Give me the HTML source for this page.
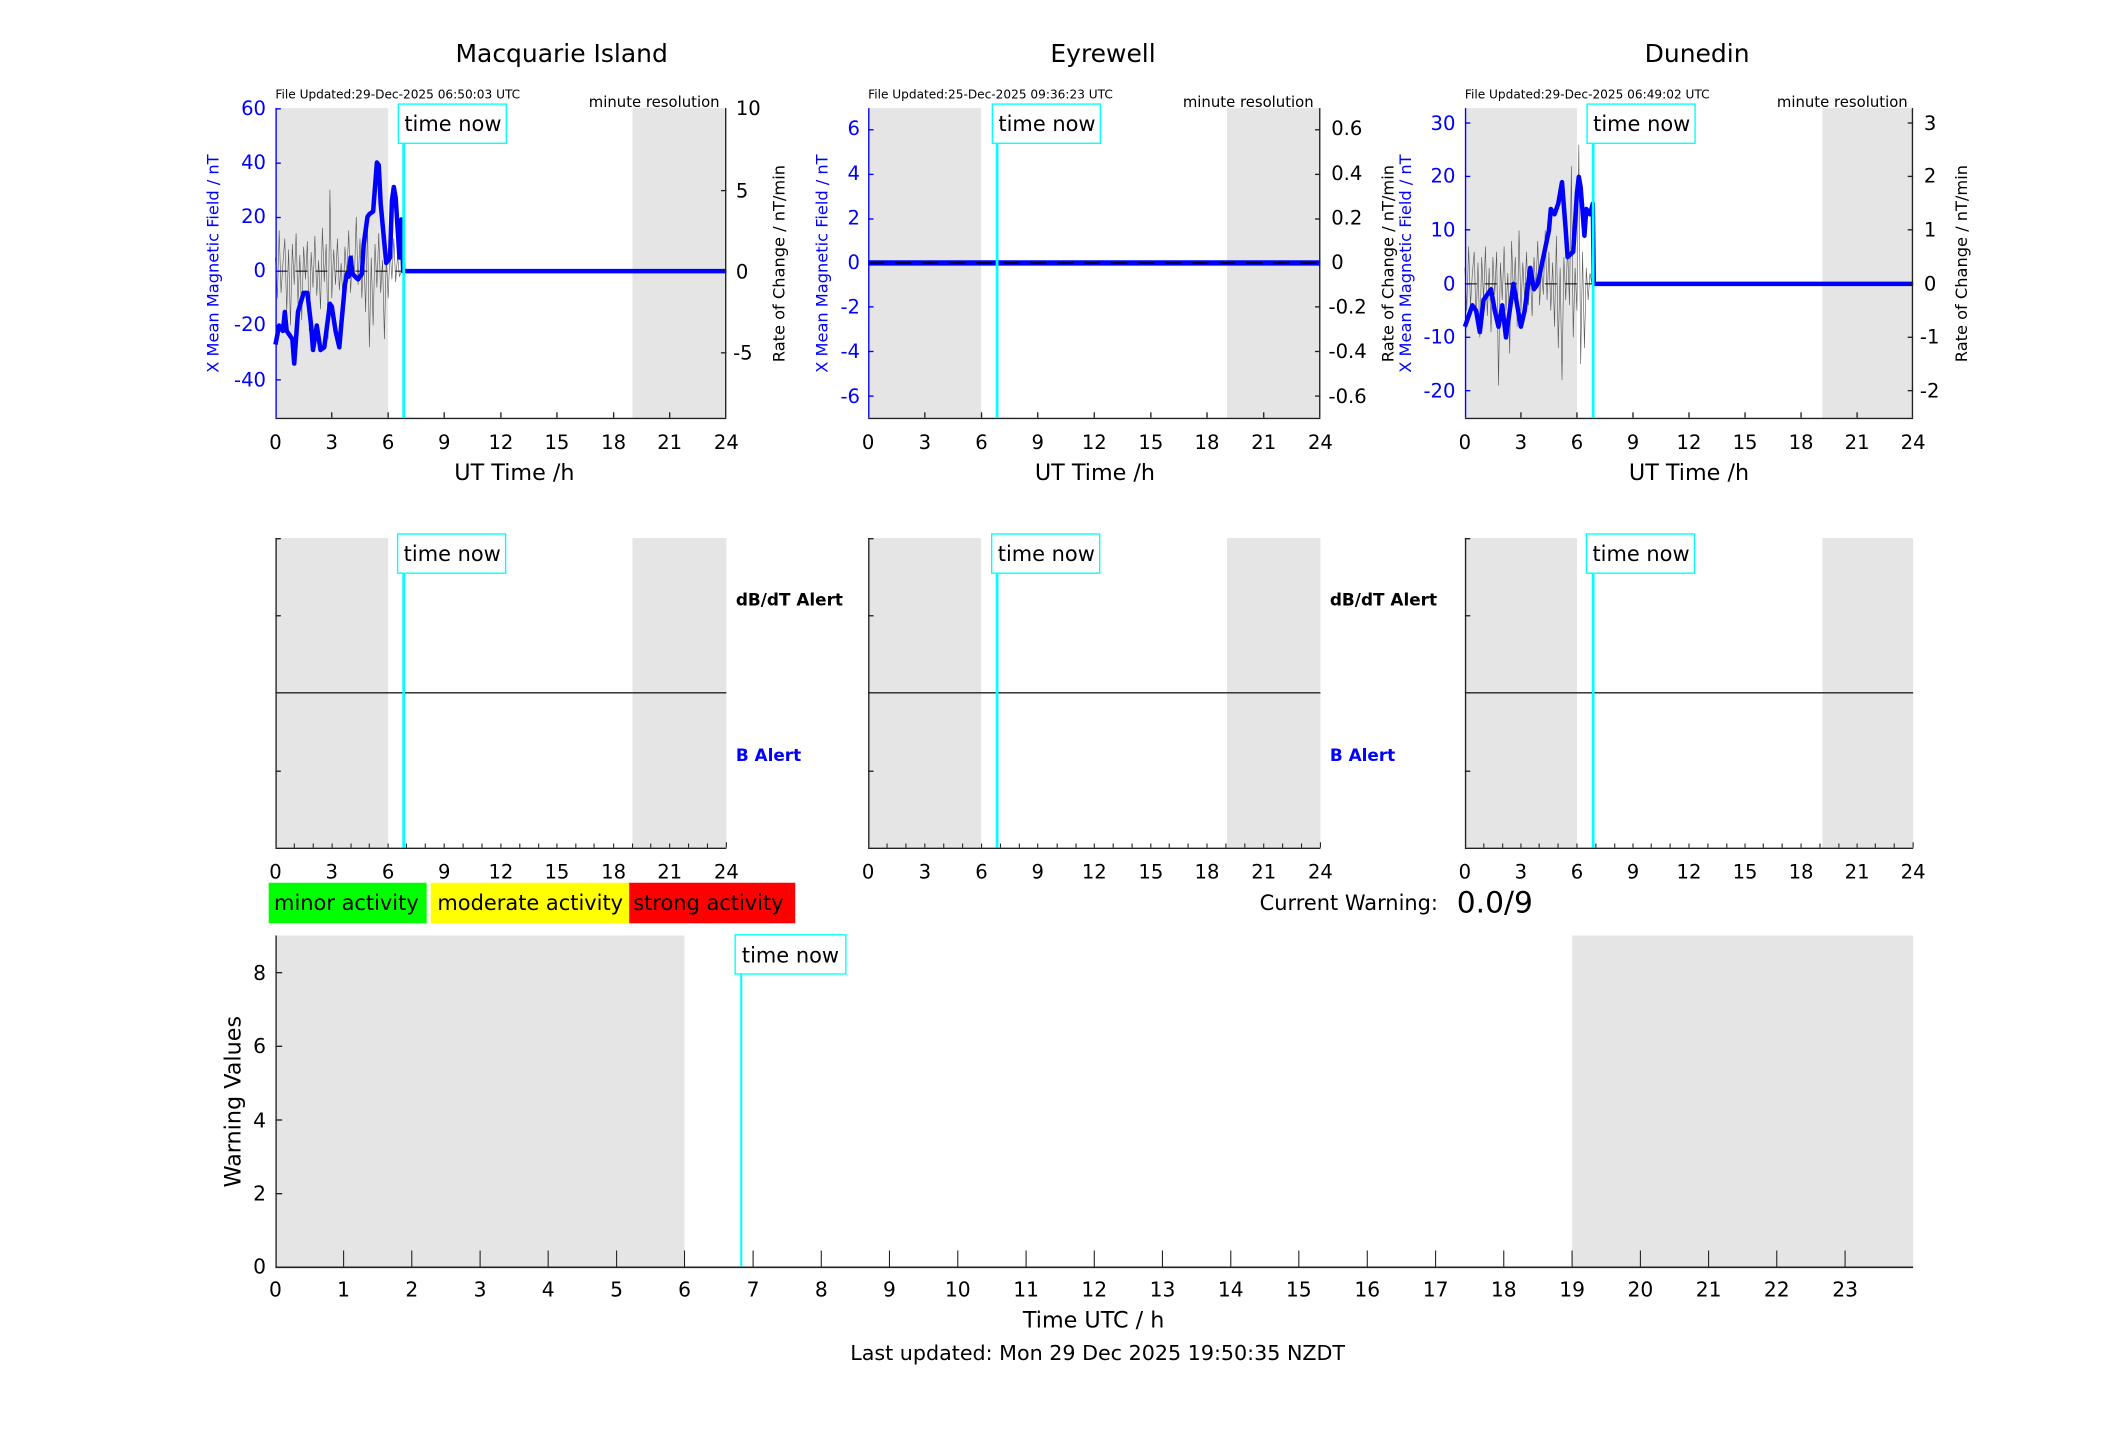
<!DOCTYPE html>
<html><head><meta charset="utf-8"><style>
html,body{margin:0;padding:0;background:#fff}
svg{display:block}
text{font-family:"DejaVu Sans","Liberation Sans",sans-serif}
</style></head><body>
<svg width="2117" height="1437" viewBox="0 0 1568 1063" preserveAspectRatio="none" xmlns="http://www.w3.org/2000/svg">
<rect width="1600" height="1100" fill="#fff"/>

<text x="416" y="46" font-size="18.5" text-anchor="middle">Macquarie Island</text>
<text x="817" y="46" font-size="18.5" text-anchor="middle">Eyrewell</text>
<text x="1257" y="46" font-size="18.5" text-anchor="middle">Dunedin</text>

<!-- ===== Panel 1 top ===== -->
<g>
<rect x="204" y="80" width="83.5" height="229" fill="#e5e5e5"/>
<rect x="468.5" y="80" width="69.5" height="229" fill="#e5e5e5"/>
<text x="204" y="73" font-size="9">File Updated:29-Dec-2025 06:50:03 UTC</text>
<text x="533" y="79" font-size="11" text-anchor="end">minute resolution</text>
<g transform="translate(204,200.6) scale(13.917,-2.01)">
<polyline fill="none" stroke="#555" stroke-width="0.6" vector-effect="non-scaling-stroke" points="0,5 0.1,-10 0.2,15 0.3,-8 0.4,3 0.5,12 0.6,-15 0.7,8 0.8,-20 0.9,10 1,-5 1.1,14 1.2,-12 1.3,6 1.4,-18 1.5,9 1.6,-3 1.7,11 1.8,-22 1.9,7 2,-6 2.1,13 2.2,-9 2.3,4 2.4,-14 2.5,16 2.6,-4 2.7,10 2.8,-25 2.9,30 3,-10 3.1,8 3.2,-5 3.3,12 3.4,-7 3.5,3 3.6,-12 3.7,9 3.8,-2 3.9,15 4,-8 4.1,6 4.2,-3 4.3,20 4.4,-5 4.5,12 4.6,-10 4.7,8 4.8,-15 4.9,18 5,-28 5.1,5 5.2,-20 5.3,10 5.4,-6 5.5,14 5.6,-8 5.7,4 5.8,-25 5.9,6 6,-10 6.1,8 6.2,-3 6.3,12 6.4,-4 6.5,6 6.6,-2 6.7,0"/>
<line x1="0" y1="0" x2="24" y2="0" stroke="#000" stroke-width="1" stroke-dasharray="12 8" vector-effect="non-scaling-stroke"/>
<polyline fill="none" stroke="#0000ff" stroke-width="4.5" stroke-linejoin="round" vector-effect="non-scaling-stroke" points="0,-27 0.2,-20 0.4,-22 0.5,-15 0.6,-22 0.9,-25 1.0,-34 1.2,-15 1.5,-8 1.7,-8 1.9,-20 2.0,-29 2.2,-20 2.4,-29 2.6,-28 2.9,-12 3.0,-13 3.2,-22 3.4,-28 3.5,-20 3.7,-5 3.8,-1 3.9,-2 4.0,5 4.1,-1 4.4,-3 4.6,-1 4.7,10 4.9,20 5.0,21 5.2,22 5.4,40 5.5,39 5.6,25 5.8,10 5.9,3 6.1,5 6.2,26 6.3,31 6.4,27 6.6,5 6.7,19 6.8,0 24,0"/>
</g>
<line x1="204.5" y1="80" x2="204.5" y2="309" stroke="#00f" stroke-width="1"/>
<line x1="537.5" y1="80" x2="537.5" y2="309" stroke="#222" stroke-width="1"/>
<line x1="204" y1="309.5" x2="538" y2="309.5" stroke="#222" stroke-width="1"/>
<g stroke="#00f"><line x1="204" y1="80.5" x2="208" y2="80.5"/><line x1="204" y1="120.7" x2="208" y2="120.7"/><line x1="204" y1="160.9" x2="208" y2="160.9"/><line x1="204" y1="200.6" x2="208" y2="200.6"/><line x1="204" y1="241" x2="208" y2="241"/><line x1="204" y1="281" x2="208" y2="281"/></g>
<g fill="#00f" font-size="14.5" text-anchor="end"><text x="197" y="85">60</text><text x="197" y="125">40</text><text x="197" y="165">20</text><text x="197" y="205">0</text><text x="197" y="245">-20</text><text x="197" y="286">-40</text></g>
<g stroke="#222"><line x1="534" y1="141" x2="538" y2="141"/><line x1="534" y1="261" x2="538" y2="261"/><line x1="534" y1="200.6" x2="538" y2="200.6"/></g>
<g font-size="14.5"><text x="545" y="85">10</text><text x="545" y="146">5</text><text x="545" y="206">0</text><text x="543" y="266">-5</text></g>
<text transform="translate(162,195) rotate(-90)" font-size="12" fill="#00f" text-anchor="middle">X Mean Magnetic Field / nT</text>
<text transform="translate(581,195) rotate(-90)" font-size="12" text-anchor="middle">Rate of Change / nT/min</text>
</g>

<!-- ===== Panel 2 top ===== -->
<g>
<rect x="643" y="80" width="83.7" height="229" fill="#e5e5e5"/>
<rect x="908.8" y="80" width="69.2" height="229" fill="#e5e5e5"/>
<text x="643" y="73" font-size="9">File Updated:25-Dec-2025 09:36:23 UTC</text>
<text x="973" y="79" font-size="11" text-anchor="end">minute resolution</text>
<line x1="643" y1="194.5" x2="978" y2="194.5" stroke="#0000ff" stroke-width="4"/>
<line x1="643" y1="194.5" x2="978" y2="194.5" stroke="#000" stroke-width="1" stroke-dasharray="12 8"/>
<line x1="643.5" y1="80" x2="643.5" y2="309" stroke="#00f"/>
<line x1="977.5" y1="80" x2="977.5" y2="309" stroke="#222"/>
<line x1="643" y1="309.5" x2="978" y2="309.5" stroke="#222"/>
<g fill="#00f" font-size="14.5" text-anchor="end"><text x="637" y="100">6</text><text x="637" y="133">4</text><text x="637" y="166">2</text><text x="637" y="199">0</text><text x="637" y="232">-2</text><text x="637" y="265">-4</text><text x="637" y="298">-6</text></g>
<g stroke="#00f"><line x1="643" y1="96" x2="647" y2="96"/><line x1="643" y1="129" x2="647" y2="129"/><line x1="643" y1="162" x2="647" y2="162"/><line x1="643" y1="227" x2="647" y2="227"/><line x1="643" y1="260" x2="647" y2="260"/><line x1="643" y1="293" x2="647" y2="293"/></g>
<g stroke="#222"><line x1="974" y1="96" x2="978" y2="96"/><line x1="974" y1="129" x2="978" y2="129"/><line x1="974" y1="162" x2="978" y2="162"/><line x1="974" y1="227" x2="978" y2="227"/><line x1="974" y1="260" x2="978" y2="260"/><line x1="974" y1="293" x2="978" y2="293"/></g>
<g font-size="14.5"><text x="986" y="100">0.6</text><text x="986" y="133">0.4</text><text x="986" y="166">0.2</text><text x="986" y="199">0</text><text x="984" y="232">-0.2</text><text x="984" y="265">-0.4</text><text x="984" y="298">-0.6</text></g>
<text transform="translate(613,195) rotate(-90)" font-size="12" fill="#00f" text-anchor="middle">X Mean Magnetic Field / nT</text>
<text transform="translate(1032,195) rotate(-90)" font-size="12" text-anchor="middle">Rate of Change / nT/min</text>
</g>

<!-- ===== Panel 3 top ===== -->
<g>
<rect x="1085" y="80" width="83" height="229" fill="#e5e5e5"/>
<rect x="1349.8" y="80" width="67.2" height="229" fill="#e5e5e5"/>
<text x="1085" y="73" font-size="9">File Updated:29-Dec-2025 06:49:02 UTC</text>
<text x="1413" y="79" font-size="11" text-anchor="end">minute resolution</text>
<g transform="translate(1085,210) scale(13.833,-3.96)">
<polyline fill="none" stroke="#555" stroke-width="0.6" vector-effect="non-scaling-stroke" points="0,3 0.1,-5 0.2,7 0.3,-4 0.4,2 0.5,6 0.6,-7 0.7,4 0.8,-10 0.9,5 1,-3 1.1,7 1.2,-6 1.3,3 1.4,-9 1.5,5 1.6,-2 1.7,6 1.8,-19 1.9,4 2,-3 2.1,7 2.2,-5 2.3,2 2.4,-13 2.5,8 2.6,-2 2.7,5 2.8,-8 2.9,10 3,-5 3.1,4 3.2,-3 3.3,6 3.4,-4 3.5,2 3.6,-6 3.7,5 3.8,-1 3.9,8 4,-4 4.1,3 4.2,-2 4.3,10 4.4,-3 4.5,6 4.6,-5 4.7,4 4.8,-8 4.9,9 5,-12 5.1,3 5.2,-18 5.3,5 5.4,-3 5.5,7 5.6,-4 5.7,22 5.8,-10 5.9,3 6,-5 6.1,26 6.2,-15 6.3,6 6.4,-12 6.5,3 6.6,-3 6.7,2 6.8,0"/>
<line x1="0" y1="0" x2="24" y2="0" stroke="#000" stroke-width="1" stroke-dasharray="12 8" vector-effect="non-scaling-stroke"/>
<polyline fill="none" stroke="#0000ff" stroke-width="4.5" stroke-linejoin="round" vector-effect="non-scaling-stroke" points="0,-8 0.2,-6 0.4,-4 0.6,-5 0.8,-9 1.0,-3 1.2,-2 1.4,-1 1.6,-5 1.8,-8 2.0,-4 2.2,-10 2.4,-5 2.6,0 2.8,-4 3.0,-8 3.2,-5 3.5,3 3.7,-1 3.9,0 4.2,5 4.5,10 4.6,14 4.8,13 5.0,15 5.2,19 5.4,10 5.5,5 5.8,6 6.0,17 6.1,20 6.2,18 6.4,9 6.5,14 6.7,13 6.85,15 6.9,0 24,0"/>
</g>
<line x1="1085.5" y1="80" x2="1085.5" y2="309" stroke="#00f"/>
<line x1="1416.5" y1="80" x2="1416.5" y2="309" stroke="#222"/>
<line x1="1085" y1="309.5" x2="1417" y2="309.5" stroke="#222"/>
<g stroke="#00f"><line x1="1085" y1="91" x2="1089" y2="91"/><line x1="1085" y1="130.5" x2="1089" y2="130.5"/><line x1="1085" y1="170" x2="1089" y2="170"/><line x1="1085" y1="210" x2="1089" y2="210"/><line x1="1085" y1="249.5" x2="1089" y2="249.5"/><line x1="1085" y1="289" x2="1089" y2="289"/></g>
<g fill="#00f" font-size="14.5" text-anchor="end"><text x="1078" y="96">30</text><text x="1078" y="135">20</text><text x="1078" y="175">10</text><text x="1078" y="215">0</text><text x="1078" y="254">-10</text><text x="1078" y="294">-20</text></g>
<g stroke="#222"><line x1="1413" y1="91" x2="1417" y2="91"/><line x1="1413" y1="130.5" x2="1417" y2="130.5"/><line x1="1413" y1="170" x2="1417" y2="170"/><line x1="1413" y1="210" x2="1417" y2="210"/><line x1="1413" y1="249.5" x2="1417" y2="249.5"/><line x1="1413" y1="289" x2="1417" y2="289"/></g>
<g font-size="14.5"><text x="1425" y="96">3</text><text x="1425" y="135">2</text><text x="1425" y="175">1</text><text x="1425" y="215">0</text><text x="1422" y="254">-1</text><text x="1422" y="294">-2</text></g>
<text transform="translate(1045,195) rotate(-90)" font-size="12" fill="#00f" text-anchor="middle">X Mean Magnetic Field / nT</text>
<text transform="translate(1457,195) rotate(-90)" font-size="12" text-anchor="middle">Rate of Change / nT/min</text>
</g>

<g font-size="14.5" text-anchor="middle">
<text x="204" y="332">0</text><text x="245.7" y="332">3</text><text x="287.5" y="332">6</text><text x="329" y="332">9</text><text x="371" y="332">12</text><text x="412.5" y="332">15</text><text x="454.5" y="332">18</text><text x="496" y="332">21</text><text x="538" y="332">24</text>
<text x="643" y="332">0</text><text x="685" y="332">3</text><text x="727" y="332">6</text><text x="768.6" y="332">9</text><text x="810.5" y="332">12</text><text x="852.4" y="332">15</text><text x="894" y="332">18</text><text x="936" y="332">21</text><text x="978" y="332">24</text>
<text x="1085" y="332">0</text><text x="1126.5" y="332">3</text><text x="1168" y="332">6</text><text x="1209.5" y="332">9</text><text x="1251" y="332">12</text><text x="1292.5" y="332">15</text><text x="1334" y="332">18</text><text x="1375.5" y="332">21</text><text x="1417" y="332">24</text>
<text x="381" y="355" font-size="16.5">UT Time /h</text><text x="811" y="355" font-size="16.5">UT Time /h</text><text x="1251" y="355" font-size="16.5">UT Time /h</text>
</g>
<g stroke="#222">
<line x1="245.7" y1="309" x2="245.7" y2="305"/><line x1="287.5" y1="309" x2="287.5" y2="305"/><line x1="329" y1="309" x2="329" y2="305"/><line x1="371" y1="309" x2="371" y2="305"/><line x1="412.5" y1="309" x2="412.5" y2="305"/><line x1="454.5" y1="309" x2="454.5" y2="305"/><line x1="496" y1="309" x2="496" y2="305"/>
<line x1="685" y1="309" x2="685" y2="305"/><line x1="727" y1="309" x2="727" y2="305"/><line x1="768.6" y1="309" x2="768.6" y2="305"/><line x1="810.5" y1="309" x2="810.5" y2="305"/><line x1="852.4" y1="309" x2="852.4" y2="305"/><line x1="894" y1="309" x2="894" y2="305"/><line x1="936" y1="309" x2="936" y2="305"/>
<line x1="1126.5" y1="309" x2="1126.5" y2="305"/><line x1="1168" y1="309" x2="1168" y2="305"/><line x1="1209.5" y1="309" x2="1209.5" y2="305"/><line x1="1251" y1="309" x2="1251" y2="305"/><line x1="1292.5" y1="309" x2="1292.5" y2="305"/><line x1="1334" y1="309" x2="1334" y2="305"/><line x1="1375.5" y1="309" x2="1375.5" y2="305"/>
</g>

<g stroke="#00ffff" stroke-width="2"><line x1="299" y1="105" x2="299" y2="309"/><line x1="738.5" y1="105" x2="738.5" y2="309"/><line x1="1180" y1="105" x2="1180" y2="309"/></g>
<g fill="#fff" stroke="#00ffff" stroke-width="1"><rect x="295" y="77" width="80" height="29"/><rect x="735" y="77" width="80" height="29"/><rect x="1175.5" y="77" width="80" height="29"/></g>
<g font-size="15.5"><text x="299.5" y="97">time now</text><text x="739.5" y="97">time now</text><text x="1180" y="97">time now</text></g>

<!-- ===== Middle panels ===== -->
<g>
<rect x="204" y="398" width="83.5" height="229" fill="#e5e5e5"/><rect x="468.5" y="398" width="69.5" height="229" fill="#e5e5e5"/>
<rect x="643" y="398" width="83.7" height="229" fill="#e5e5e5"/><rect x="908.8" y="398" width="69.2" height="229" fill="#e5e5e5"/>
<rect x="1085" y="398" width="83" height="229" fill="#e5e5e5"/><rect x="1349.8" y="398" width="67.2" height="229" fill="#e5e5e5"/>
<g stroke="#222" stroke-width="1">
<line x1="204.5" y1="398" x2="204.5" y2="627"/><line x1="204" y1="627.5" x2="538" y2="627.5"/><line x1="204" y1="512.5" x2="538" y2="512.5"/>
<line x1="643.5" y1="398" x2="643.5" y2="627"/><line x1="643" y1="627.5" x2="978" y2="627.5"/><line x1="643" y1="512.5" x2="978" y2="512.5"/>
<line x1="1085.5" y1="398" x2="1085.5" y2="627"/><line x1="1085" y1="627.5" x2="1417" y2="627.5"/><line x1="1085" y1="512.5" x2="1417" y2="512.5"/>
<line x1="204" y1="398.5" x2="208" y2="398.5"/><line x1="204" y1="455.5" x2="208" y2="455.5"/><line x1="204" y1="570.5" x2="208" y2="570.5"/>
<line x1="643" y1="398.5" x2="647" y2="398.5"/><line x1="643" y1="455.5" x2="647" y2="455.5"/><line x1="643" y1="570.5" x2="647" y2="570.5"/>
<line x1="1085" y1="398.5" x2="1089" y2="398.5"/><line x1="1085" y1="455.5" x2="1089" y2="455.5"/><line x1="1085" y1="570.5" x2="1089" y2="570.5"/>
</g>
<path stroke="#222" stroke-width="0.8" d="M218,627v-3M232,627v-3M246,627v-3M260,627v-3M273.5,627v-3M287.5,627v-3M301,627v-3M315,627v-3M329,627v-3M343,627v-3M357,627v-3M371,627v-3M385,627v-3M399,627v-3M412.5,627v-3M426.5,627v-3M440,627v-3M454.5,627v-3M468.5,627v-3M482,627v-3M496,627v-3M510,627v-3M524,627v-3M538,627v-4
M657,627v-3M671,627v-3M685,627v-3M699,627v-3M713,627v-3M727,627v-3M741,627v-3M755,627v-3M768.6,627v-3M783,627v-3M797,627v-3M810.5,627v-3M824.5,627v-3M838.5,627v-3M852.4,627v-3M866,627v-3M880,627v-3M894,627v-3M908,627v-3M922,627v-3M936,627v-3M950,627v-3M964,627v-3M978,627v-4
M1099,627v-3M1113,627v-3M1126.5,627v-3M1140,627v-3M1154,627v-3M1168,627v-3M1182,627v-3M1196,627v-3M1209.5,627v-3M1223,627v-3M1237,627v-3M1251,627v-3M1265,627v-3M1279,627v-3M1292.5,627v-3M1306,627v-3M1320,627v-3M1334,627v-3M1348,627v-3M1362,627v-3M1375.5,627v-3M1389,627v-3M1403,627v-3M1417,627v-4"/>
<g font-weight="bold" font-size="12.5"><text x="545" y="448">dB/dT Alert</text><text x="545" y="563" fill="#00f">B Alert</text><text x="985" y="448">dB/dT Alert</text><text x="985" y="563" fill="#00f">B Alert</text></g>
<g stroke="#00ffff" stroke-width="2"><line x1="299" y1="423" x2="299" y2="627"/><line x1="738.5" y1="423" x2="738.5" y2="627"/><line x1="1180" y1="423" x2="1180" y2="627"/></g>
<g fill="#fff" stroke="#00ffff" stroke-width="1"><rect x="294.5" y="395" width="80" height="29"/><rect x="734.5" y="395" width="80" height="29"/><rect x="1175" y="395" width="80" height="29"/></g>
<g font-size="15.5"><text x="299" y="415">time now</text><text x="739" y="415">time now</text><text x="1179.5" y="415">time now</text></g>
<g font-size="14.5" text-anchor="middle">
<text x="204" y="650">0</text><text x="245.7" y="650">3</text><text x="287.5" y="650">6</text><text x="329" y="650">9</text><text x="371" y="650">12</text><text x="412.5" y="650">15</text><text x="454.5" y="650">18</text><text x="496" y="650">21</text><text x="538" y="650">24</text>
<text x="643" y="650">0</text><text x="685" y="650">3</text><text x="727" y="650">6</text><text x="768.6" y="650">9</text><text x="810.5" y="650">12</text><text x="852.4" y="650">15</text><text x="894" y="650">18</text><text x="936" y="650">21</text><text x="978" y="650">24</text>
<text x="1085" y="650">0</text><text x="1126.5" y="650">3</text><text x="1168" y="650">6</text><text x="1209.5" y="650">9</text><text x="1251" y="650">12</text><text x="1292.5" y="650">15</text><text x="1334" y="650">18</text><text x="1375.5" y="650">21</text><text x="1417" y="650">24</text>
</g>
</g>

<rect x="199" y="653" width="117" height="30" fill="#00ff00"/>
<rect x="319" y="653" width="147" height="30" fill="#ffff00"/>
<rect x="466" y="653" width="123" height="30" fill="#ff0000"/>
<g font-size="15.5"><text x="203" y="673">minor activity</text><text x="324" y="673">moderate activity</text><text x="469" y="673">strong activity</text></g>
<text x="933" y="673" font-size="15.5">Current Warning:</text>
<text x="1079" y="675" font-size="22">0.0/9</text>

<!-- ===== Bottom panel ===== -->
<rect x="204" y="692" width="303" height="245" fill="#e5e5e5"/>
<rect x="1164.5" y="692" width="252.5" height="245" fill="#e5e5e5"/>
<line x1="204.5" y1="692" x2="204.5" y2="937" stroke="#222"/>
<line x1="204" y1="937.5" x2="1417" y2="937.5" stroke="#222" stroke-width="1.2"/>
<g stroke="#222"><line x1="204" y1="719.5" x2="209" y2="719.5"/><line x1="204" y1="774" x2="209" y2="774"/><line x1="204" y1="828.5" x2="209" y2="828.5"/><line x1="204" y1="883" x2="209" y2="883"/></g>
<g font-size="15" text-anchor="end"><text x="197" y="725">8</text><text x="197" y="779">6</text><text x="197" y="834">4</text><text x="197" y="888">2</text><text x="197" y="942">0</text></g>
<path stroke="#222" stroke-width="0.8" d="M254.5,937v-12M305,937v-12M355.6,937v-12M406,937v-12M456.7,937v-12M507,937v-12M557.8,937v-12M608.3,937v-12M658.8,937v-12M709.4,937v-12M760,937v-12M810.5,937v-12M861,937v-12M911.6,937v-12M962,937v-12M1012.7,937v-12M1063.3,937v-12M1113.8,937v-12M1164.4,937v-12M1215,937v-12M1265.5,937v-12M1316,937v-12M1366.6,937v-12"/>
<g font-size="15" text-anchor="middle">
<text x="204" y="959">0</text><text x="254.5" y="959">1</text><text x="305" y="959">2</text><text x="355.6" y="959">3</text><text x="406" y="959">4</text><text x="456.7" y="959">5</text><text x="507" y="959">6</text><text x="557.8" y="959">7</text><text x="608.3" y="959">8</text><text x="658.8" y="959">9</text><text x="709.4" y="959">10</text><text x="760" y="959">11</text><text x="810.5" y="959">12</text><text x="861" y="959">13</text><text x="911.6" y="959">14</text><text x="962" y="959">15</text><text x="1012.7" y="959">16</text><text x="1063.3" y="959">17</text><text x="1113.8" y="959">18</text><text x="1164.4" y="959">19</text><text x="1215" y="959">20</text><text x="1265.5" y="959">21</text><text x="1316" y="959">22</text><text x="1366.6" y="959">23</text>
<text x="810" y="982" font-size="16.5">Time UTC / h</text>
<text x="813" y="1006" font-size="15.3">Last updated: Mon 29 Dec 2025 19:50:35 NZDT</text>
</g>
<text transform="translate(178,815) rotate(-90)" font-size="16.5" text-anchor="middle">Warning Values</text>
<line x1="549" y1="720" x2="549" y2="937" stroke="#00ffff" stroke-width="1.5"/>
<rect x="544.5" y="691.5" width="82" height="29" fill="#fff" stroke="#00ffff"/>
<text x="549.5" y="712" font-size="15.5">time now</text>
</svg>
</body></html>
